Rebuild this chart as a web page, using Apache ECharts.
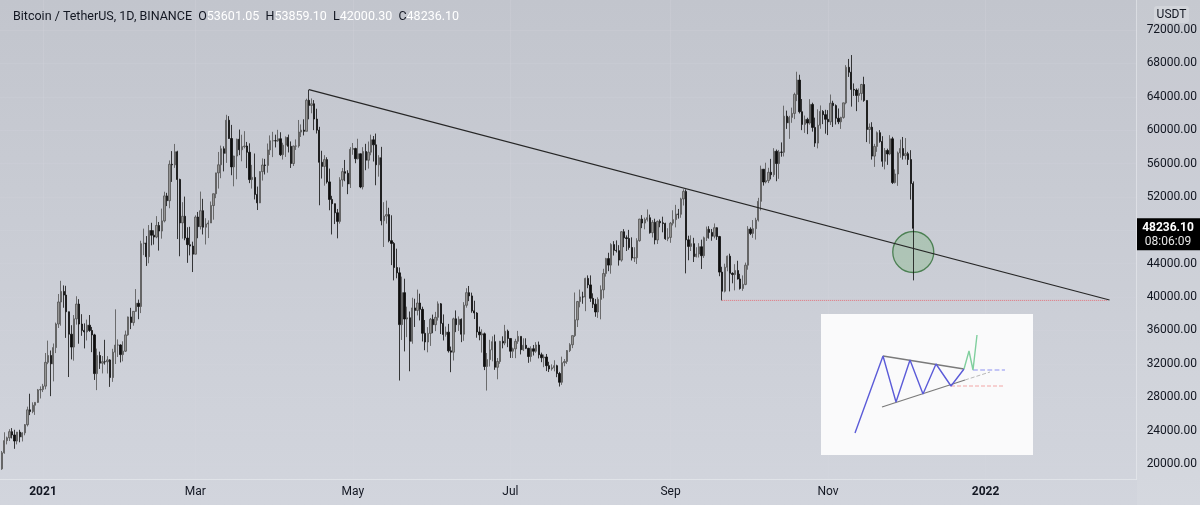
<!DOCTYPE html>
<html>
<head>
<meta charset="utf-8">
<title>Bitcoin / TetherUS 1D</title>
<script src="https://cdn.jsdelivr.net/npm/echarts@6/dist/echarts.min.js"></script>
<style>
  html, body { margin: 0; padding: 0; }
  #chart { width: 1200px; height: 505px; }
</style>
</head>
<body>
<div id="chart"></div>
<script>
const DAY = 86400000;
// daily candles from 2020-12-16 to 2021-12-04, values in thousands of USDT
const firstDay = '2020-12-16';
const firstOpen = 19.42;

const closes = [
  // Dec 2020 (from 16th)
  21.34,22.80,23.14,23.87,23.48,22.75,23.82,23.25,23.73,24.71,26.49,26.28,27.04,27.38,28.88,28.92,
  // Jan
  29.33,32.18,33.00,32.00,33.95,36.77,39.41,40.67,40.24,38.24,35.55,34.01,37.39,39.16,36.77,36.01,35.82,36.63,36.00,35.47,30.83,33.00,32.08,32.26,32.25,32.47,30.36,33.40,34.25,34.26,33.11,
  // Feb
  33.52,35.47,37.62,36.94,38.29,39.26,38.87,46.40,46.48,44.84,47.97,47.41,47.19,48.58,47.91,49.13,52.12,51.55,55.91,55.84,57.41,54.09,48.89,49.68,47.07,46.28,46.11,45.14,
  // Mar
  49.59,48.44,50.35,48.37,48.76,48.88,50.97,52.38,54.88,55.85,57.77,57.22,61.19,59.00,55.60,56.90,58.91,57.65,58.03,58.10,57.35,54.08,54.34,52.30,51.29,55.03,55.82,55.78,57.63,58.73,58.74,
  // Apr
  58.72,58.97,57.06,58.20,59.13,58.06,56.00,58.09,58.10,59.77,60.00,59.86,63.58,62.96,63.16,61.33,60.00,56.15,55.66,56.47,53.80,51.70,51.19,50.10,49.07,54.03,55.03,54.84,53.56,57.70,
  // May
  57.80,56.58,57.17,53.20,57.44,56.40,57.36,58.84,58.24,55.85,56.70,49.15,49.70,49.88,46.76,46.43,43.54,42.90,36.70,40.53,37.37,37.52,34.70,38.70,38.40,39.29,38.53,35.66,34.62,35.65,37.34,
  // Jun
  36.69,37.57,39.19,36.85,35.52,35.80,33.56,33.40,37.39,36.69,37.34,35.55,39.02,40.53,40.14,38.35,38.09,35.82,35.48,35.60,31.68,32.51,33.68,34.66,31.59,32.28,34.70,34.49,35.91,35.04,
  // Jul
  33.51,33.80,34.70,35.29,33.69,34.22,33.86,32.88,33.81,33.51,34.26,33.09,32.73,32.82,31.78,31.39,31.53,31.78,30.84,29.79,32.14,32.29,33.59,34.29,35.38,37.27,39.46,40.02,40.01,42.24,41.46,
  // Aug
  39.85,39.15,38.21,39.72,40.87,42.82,44.61,43.83,46.29,45.60,45.56,44.43,47.83,47.10,47.02,45.94,44.69,44.71,46.76,49.34,48.87,49.28,49.51,47.71,48.96,46.85,49.07,48.90,48.81,46.99,47.15,
  // Sep
  48.85,49.28,49.94,49.92,51.76,52.66,46.86,46.07,46.40,44.85,45.16,46.03,44.96,47.11,48.12,47.75,47.29,48.31,47.25,42.99,40.70,43.57,44.90,42.84,42.70,43.18,42.17,41.03,41.52,43.82,
  // Oct
  48.14,47.63,48.20,49.22,51.47,55.32,53.79,53.95,54.95,54.66,57.47,56.00,57.37,57.35,61.67,60.88,61.53,62.01,64.28,66.00,62.21,60.69,61.29,60.85,63.08,60.33,58.45,60.59,62.25,61.86,61.30,
  // Nov
  61.00,63.23,62.94,61.43,61.00,61.53,63.27,67.53,66.94,64.88,64.81,64.16,64.40,65.47,63.56,60.08,60.35,56.89,58.05,59.70,58.65,56.27,57.56,57.15,58.96,53.72,54.75,57.27,57.80,56.95,
  // Dec
  57.18,56.48,53.601,48.2361
];

const highs = [
  21.56,23.80,23.28,24.17,24.30,24.10,23.84,24.10,23.80,24.79,26.87,28.42,27.39,27.41,28.99,29.30,
  29.60,33.30,34.78,33.60,34.44,36.94,40.37,41.95,41.40,41.35,38.26,36.63,37.85,40.10,39.75,37.95,36.85,37.30,37.85,36.42,35.60,33.83,33.46,32.94,34.88,32.92,32.56,33.80,38.53,34.93,34.34,
  34.70,35.98,37.66,38.71,38.31,40.96,39.70,46.75,48.20,47.31,48.63,48.90,48.00,49.70,49.00,50.60,52.62,52.49,56.37,57.49,58.35,57.53,54.18,51.37,52.04,48.37,48.42,46.64,
  49.79,50.20,52.64,51.77,49.45,49.20,51.45,52.40,54.90,57.39,58.15,58.06,61.84,61.68,60.63,56.94,58.98,60.07,59.45,59.88,58.59,58.42,55.84,57.20,53.24,55.07,56.61,56.56,58.40,59.37,59.80,
  59.46,60.04,59.75,58.49,59.25,59.47,58.65,58.15,58.89,61.22,60.69,61.30,63.77,64.85,63.80,63.60,62.57,60.40,57.53,57.00,56.75,55.40,52.13,51.17,50.56,54.36,55.46,56.43,55.20,57.96,
  58.46,57.90,58.97,57.20,57.96,58.36,58.64,59.46,59.30,59.59,57.00,58.00,51.37,51.56,50.70,49.80,46.60,45.80,43.55,42.45,42.20,38.85,38.27,39.92,39.80,40.90,40.41,38.85,37.25,36.40,37.50,
  37.90,38.23,39.48,39.29,37.92,36.47,36.79,34.07,37.53,38.40,37.68,37.44,39.39,41.06,41.33,40.53,39.56,38.20,36.46,36.14,35.75,33.30,34.88,35.30,35.50,32.70,34.75,35.30,36.67,36.10,
  35.04,33.94,35.00,35.95,35.29,35.06,35.06,33.92,34.10,34.26,34.60,34.67,33.34,33.11,33.18,32.25,31.94,32.43,31.89,31.04,32.86,32.58,33.65,34.48,35.40,40.55,39.54,40.90,40.64,42.32,42.60,
  42.60,40.45,39.78,39.97,41.40,43.39,44.70,45.31,46.45,46.70,46.79,46.22,47.89,48.14,47.39,48.05,47.16,45.97,47.05,49.38,49.82,49.52,50.50,49.88,49.23,49.39,49.17,49.30,49.63,48.91,48.25,
  49.00,50.40,51.05,50.56,51.90,52.92,52.90,47.35,47.40,47.10,45.97,46.46,46.88,47.25,48.45,48.49,48.16,48.82,48.37,47.33,43.63,44.00,44.98,45.20,42.97,43.94,44.35,42.79,42.60,44.13,
  48.50,48.36,49.23,49.50,51.89,55.75,55.33,56.10,55.49,56.56,57.84,57.68,57.63,58.53,62.93,62.34,61.72,62.70,64.49,67.00,66.64,63.73,61.75,61.49,63.71,63.29,61.50,62.50,62.96,62.40,62.44,
  62.40,64.27,63.52,63.09,62.60,61.60,63.29,67.79,68.53,69.00,65.60,65.00,65.00,65.55,66.40,63.55,60.80,60.95,58.36,59.85,60.00,59.28,57.86,57.78,59.40,59.20,55.30,57.44,58.87,59.18,
  59.05,57.40,57.60,53.8591
];

const lows = [
  19.30,21.23,22.35,22.75,23.06,21.82,22.35,22.60,22.70,23.44,24.50,25.86,26.08,25.88,27.32,27.85,
  28.62,28.95,31.96,28.13,29.90,33.29,36.30,36.57,38.72,35.11,30.42,32.53,32.38,36.70,34.41,35.36,33.85,34.80,35.83,33.40,30.07,28.85,31.39,30.85,31.91,30.84,29.24,29.84,31.98,32.82,32.17,
  32.30,33.42,35.36,36.16,36.57,38.22,37.35,38.08,45.02,43.73,44.05,46.20,46.29,47.05,45.57,47.00,48.95,50.90,50.64,53.80,55.48,46.95,44.89,47.00,46.81,44.10,45.00,43.00,
  45.12,47.05,48.10,47.50,46.30,47.07,48.87,49.27,51.85,53.00,54.24,55.06,56.08,58.96,54.60,53.27,54.12,57.00,56.27,57.82,55.45,53.65,53.00,51.70,50.43,51.26,53.96,54.69,54.90,57.03,56.77,
  57.93,58.60,56.90,56.48,56.79,57.33,55.47,55.70,57.63,57.90,59.18,59.37,59.87,61.30,62.02,60.00,59.60,51.00,54.20,53.35,53.60,50.40,47.50,48.75,47.04,48.80,53.22,53.88,52.33,53.07,
  57.05,56.04,56.48,53.05,52.90,55.20,55.39,56.99,56.24,53.40,54.43,48.60,46.00,48.80,46.56,43.83,42.00,42.25,30.00,34.86,33.49,35.20,31.11,34.41,36.42,37.80,37.20,34.68,33.63,33.38,34.15,
  35.67,35.92,37.18,35.57,34.80,35.26,33.35,31.00,32.40,35.80,35.94,34.60,34.76,38.73,39.51,38.12,37.37,35.13,34.82,33.35,31.25,28.80,31.68,32.30,31.28,30.15,32.00,33.86,34.23,34.00,
  32.71,32.70,32.68,34.40,33.13,33.53,33.77,32.12,32.26,33.00,33.32,32.65,32.20,31.60,31.13,31.02,31.18,31.10,30.40,29.28,29.48,31.71,32.00,33.41,33.88,35.21,36.41,38.77,39.20,38.31,41.06,
  39.42,38.69,37.64,37.51,37.33,39.85,42.45,43.10,42.80,44.98,45.34,43.77,44.24,45.98,45.52,45.67,44.38,44.20,43.96,46.63,48.26,48.12,49.05,47.60,47.14,46.32,46.36,48.37,47.76,46.86,46.70,
  46.50,48.58,48.35,49.40,49.50,50.97,42.84,44.41,45.52,44.20,44.75,44.74,43.37,44.69,46.72,47.00,46.75,47.04,46.85,42.50,39.60,40.56,43.09,40.68,41.65,40.80,42.10,40.90,40.75,41.42,
  43.28,47.43,47.10,46.89,49.05,50.38,53.36,53.62,53.66,54.10,54.40,53.88,54.17,56.82,56.85,60.15,58.96,60.88,61.32,63.48,62.00,60.00,59.67,59.52,60.65,59.82,58.00,57.82,60.17,60.72,59.58,
  59.41,60.62,60.38,60.68,60.72,60.15,61.38,63.10,66.38,62.82,64.10,62.28,63.36,63.58,63.40,58.57,58.37,56.47,55.60,57.40,58.49,55.61,55.30,55.84,57.00,53.55,53.61,53.33,56.70,56.47,
  56.49,55.83,51.68,42.0003
];

const xLabelDates = ['2021-01-01', '2021-03-01', '2021-05-01', '2021-07-01', '2021-09-01', '2021-11-01', '2022-01-01'];
const xLabelTexts = ['2021', 'Mar', 'May', 'Jul', 'Sep', 'Nov', '2022'];
const yTicks = [20000, 24000, 28000, 32000, 36000, 40000, 44000, 48000, 52000, 56000, 60000, 64000, 68000, 72000];

const header = 'Bitcoin / TetherUS, 1D, BINANCE';
const ohlc = [['O', '53601.05'], ['H', '53859.10'], ['L', '42000.30'], ['C', '48236.10']];
const lastPrice = 48236.10;
const countdown = '08:06:09';

// drawings on the chart
const trendLine = [['2021-04-14', 64854], ['2022-02-18', 39650]];
const supportLine = [['2021-09-21', 39600], ['2022-02-17', 39600]];
const circleMark = [['2021-12-04', 45400]];

// inset sketch of a triangle breakout, in the inset's own units (0..212 x 0..141)
const insetZigzag = [[34, 119], [62, 42], [75, 88], [89, 46], [102, 80], [115, 50], [130, 72], [143, 55]];
const insetBreakout = [[143, 55], [148, 37], [152, 56], [156, 21]];
const insetUpper = [[62, 42], [143, 55]];
const insetLower = [[61, 93], [144, 66]];
const insetLowerExt = [[144, 66], [169, 58]];
const insetBlueDash = [[152, 56], [184, 56]];
const insetRedDash = [[130, 72], [184, 72]];

const candles = closes.map(function (c, i) {
  const o = i === 0 ? firstOpen : closes[i - 1];
  return [Date.parse(firstDay) + i * DAY, o * 1000, c * 1000, lows[i] * 1000, highs[i] * 1000];
});
const toPts = (arr) => arr.map((p) => [Date.parse(p[0]), p[1]]);
const xLabelValues = xLabelDates.map((d) => Date.parse(d));

const T0 = Date.parse('2021-01-01');
const font = 'Roboto, "Noto Sans", sans-serif';

let chart = echarts.init(document.getElementById('chart'));

let headerText = '{n|' + header + '}';
ohlc.forEach(function (p) {
  headerText += '  {k|' + p[0] + '}{v|' + p[1] + '}';
});

function insetLine(data, color, type, width) {
  return {
    type: 'line',
    xAxisIndex: 1,
    yAxisIndex: 1,
    data: data,
    symbol: 'none',
    silent: true,
    lineStyle: { color: color, width: width || 1.2, type: type || 'solid' },
    z: 6,
  };
}

let option = {
  animation: false,
  backgroundColor: {
    type: 'linear', x: 0, y: 0, x2: 0, y2: 1,
    colorStops: [{ offset: 0, color: '#c2c5cd' }, { offset: 1, color: '#d2d5dd' }],
  },
  title: {
    left: 8,
    top: 5,
    text: headerText,
    textStyle: {
      fontFamily: font,
      fontSize: 12.5,
      fontWeight: 'normal',
      rich: {
        n: { color: '#131722', fontFamily: font, fontSize: 12.5 },
        k: { color: '#131722', fontFamily: font, fontSize: 12.5 },
        v: { color: '#ffffff', fontFamily: font, fontSize: 12.5 },
      },
    },
  },
  grid: [
    { left: 0, right: 63, top: 0, bottom: 26 },
    { left: 821, top: 314, width: 212, height: 141, show: true, backgroundColor: '#fafafb', borderWidth: 0, z: 5 },
  ],
  xAxis: [
    {
      type: 'value',
      min: T0 - 16.65 * DAY,
      max: T0 + 423.5 * DAY,
      axisLine: { show: true, lineStyle: { color: 'rgba(236,238,243,0.55)' } },
      axisTick: { show: false, customValues: xLabelValues },
      splitLine: { show: true, lineStyle: { color: 'rgba(214,217,224,0.25)', width: 1 } },
      axisLabel: {
        customValues: xLabelValues,
        margin: 7,
        color: '#131722',
        fontFamily: font,
        fontSize: 12,
        formatter: function (v) {
          const t = xLabelTexts[xLabelValues.indexOf(v)];
          return /^\d{4}$/.test(t) ? '{y|' + t + '}' : t;
        },
        rich: { y: { fontWeight: 'bold', fontFamily: font, fontSize: 12, color: '#131722' } },
      },
    },
    { gridIndex: 1, type: 'value', min: 0, max: 212, show: false },
  ],
  yAxis: [
    {
      type: 'value',
      position: 'right',
      min: 18202,
      max: 75595,
      axisLine: { show: true, lineStyle: { color: 'rgba(236,238,243,0.55)' } },
      axisTick: { show: false, customValues: yTicks },
      splitLine: { show: true, lineStyle: { color: 'rgba(214,217,224,0.2)', width: 1 } },
      axisLabel: {
        customValues: yTicks,
        margin: 10,
        color: '#131722',
        fontFamily: font,
        fontSize: 12,
        formatter: (v) => v.toFixed(2),
      },
    },
    { gridIndex: 1, type: 'value', min: 0, max: 141, inverse: true, show: false },
  ],
  series: [
    {
      name: 'BTCUSDT',
      type: 'candlestick',
      data: candles,
      barWidth: 1.8,
      itemStyle: {
        color: '#959595',
        borderColor: '#525252',
        color0: '#0e0e0e',
        borderColor0: '#0e0e0e',
        borderWidth: 0.8,
      },
      z: 3,
    },
    {
      name: 'circle',
      type: 'scatter',
      data: toPts(circleMark),
      symbol: 'circle',
      symbolSize: 41,
      silent: true,
      itemStyle: { color: 'rgba(110,175,110,0.38)', borderColor: '#2f6e36', borderWidth: 1.3 },
      z: 2,
    },
    {
      name: 'trend',
      type: 'line',
      data: toPts(trendLine),
      symbol: 'none',
      silent: true,
      lineStyle: { color: '#262626', width: 1.2 },
      z: 4,
    },
    {
      name: 'support',
      type: 'line',
      data: toPts(supportLine),
      symbol: 'none',
      silent: true,
      lineStyle: { color: '#e2727c', width: 1, type: 'dotted' },
      z: 4,
    },
    insetLine(insetUpper, '#7a7a7a', 'solid', 1.3),
    insetLine(insetLower, '#7a7a7a', 'solid', 1.3),
    insetLine(insetLowerExt, '#b8b8b8', 'dashed', 1),
    insetLine(insetBlueDash, '#8c8ff2', 'dashed', 1.2),
    insetLine(insetRedDash, '#f2a6a6', 'dashed', 1),
    insetLine(insetZigzag, '#5b5bd8', 'solid', 1.4),
    insetLine(insetBreakout, '#80cf9e', 'solid', 1.4),
  ],
};
chart.setOption(option);

// price scale decorations placed through the axis scale
const py = chart.convertToPixel({ yAxisIndex: 0 }, lastPrice);
chart.setOption({
  graphic: [
    {
      type: 'rect', silent: true, z: -1,
      shape: { x: 1137, y: 0, width: 63, height: 505 },
      style: { fill: 'rgba(255,255,255,0.07)' },
    },
    {
      type: 'rect', silent: true, z: 90,
      shape: { x: 1154, y: 6, width: 35, height: 17, r: 3 },
      style: { fill: 'rgba(255,255,255,0.22)' },
    },
    {
      type: 'text', silent: true, z: 91,
      style: { x: 1171.5, y: 14.5, text: 'USDT', fill: '#131722', font: '12px ' + font, align: 'center', verticalAlign: 'middle' },
    },
    {
      type: 'rect', silent: true, z: 100,
      shape: { x: 1137, y: py - 10, width: 63, height: 32 },
      style: { fill: '#000000' },
    },
    {
      type: 'text', silent: true, z: 101,
      style: { x: 1168, y: py, text: lastPrice.toFixed(2), fill: '#ffffff', font: 'bold 12px ' + font, align: 'center', verticalAlign: 'middle' },
    },
    {
      type: 'text', silent: true, z: 101,
      style: { x: 1168, y: py + 14, text: countdown, fill: '#e6e6e6', font: '12px ' + font, align: 'center', verticalAlign: 'middle' },
    },
  ],
});
</script>
</body>
</html>
